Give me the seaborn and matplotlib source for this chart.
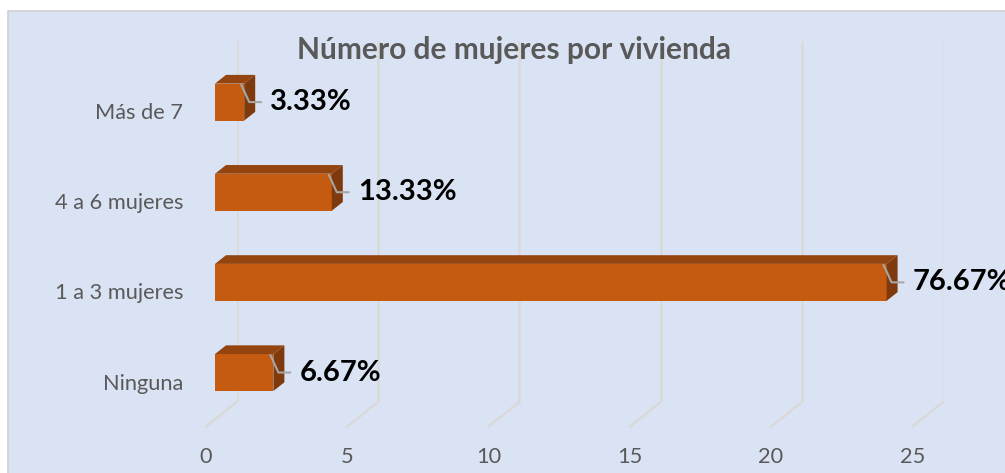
import numpy as np
import pandas as pd
import matplotlib
matplotlib.use("Agg")
import matplotlib.pyplot as plt
import seaborn as sns
from matplotlib.patches import Polygon, Rectangle
from matplotlib.transforms import ScaledTranslation

# ---- data ----
categories = ["Más de 7", "4 a 6 mujeres", "1 a 3 mujeres", "Ninguna"]
counts = [1, 4, 23, 2]
pct_labels = ["3.33%", "13.33%", "76.67%", "6.67%"]
x_ticks = [0, 5, 10, 15, 20, 25]
title = "Número de mujeres por vivienda"

sns.set_theme(style="white")
plt.rcParams["font.family"] = ["Lato", "DejaVu Sans"]

W, H = 1005, 473
DPI = 100
fig = plt.figure(figsize=(W / DPI, H / DPI), dpi=DPI)
fig.patch.set_facecolor("white")


def px(x0, y0, x1, y1):
    return [x0 / W, 1 - y1 / H, (x1 - x0) / W, (y1 - y0) / H]


# chart area background
fig.patches.append(Rectangle((8 / W, -0.02), 1.0, 1 - 11 / H + 0.02,
                             transform=fig.transFigure, facecolor="#DAE3F3",
                             edgecolor="#D0D0D0", lw=1.2, zorder=-10))

# ---- back wall grid + floor ----
axg = fig.add_axes(px(236.7, 40.7, 943.3, 402))
axg.set_xlim(0, 25)
axg.set_ylim(0, 1)
axg.patch.set_alpha(0)
for s in axg.spines.values():
    s.set_visible(False)
axg.set_yticks([])
axg.set_xticks(x_ticks)
axg.set_xticklabels([str(t) for t in x_ticks])
axg.tick_params(axis="x", length=0, pad=0, labelsize=15.7, labelcolor="#595959")
grid_c = "#D9D9D9"
depth_dx = -31 / (706.6 / 25)
depth_dy = -24.7 / 361.3
for t in x_ticks:
    axg.plot([t, t], [0, 1], color=grid_c, lw=1.8, solid_capstyle="butt")
    axg.plot([t, t + depth_dx], [0, depth_dy], color=grid_c, lw=1.8, clip_on=False)
for lab in axg.get_xticklabels():
    lab.set_va("center")
    lab.set_transform(lab.get_transform() + ScaledTranslation(-31 / DPI, -55 / DPI, fig.dpi_scale_trans))

# ---- bars ----
axb = fig.add_axes(px(215, 57, 945, 417.6))
axb.patch.set_alpha(0)
sns.barplot(x=counts, y=categories, orient="h", color="#C55A11", saturation=1,
            width=0.41, linewidth=0, ax=axb)
axb.set_xlim(0, 25)
axb.set_ylim(3.5, -0.5)
for s in axb.spines.values():
    s.set_visible(False)
axb.set_xticks([])
axb.set_xlabel("")
axb.set_ylabel("")
axb.tick_params(axis="y", length=0, pad=23, labelsize=15.7, labelcolor="#595959")
for lab in axb.get_yticklabels():
    lab.set_transform(lab.get_transform() + ScaledTranslation(0, -9 / DPI, fig.dpi_scale_trans))

T = axb.transData
Ti = T.inverted()
dx, dy = 11, 8.7
for p, lab in zip(list(axb.patches), pct_labels):
    x0, y0, w, h = p.get_x(), p.get_y(), p.get_width(), p.get_height()
    xl, yt = T.transform((x0, y0))
    xr, yb = T.transform((x0 + w, y0 + h))
    top = [(xl, yt), (xr, yt), (xr + dx, yt + dy), (xl + dx, yt + dy)]
    side = [(xr, yt), (xr, yb), (xr + dx, yb + dy), (xr + dx, yt + dy)]
    axb.add_patch(Polygon(Ti.transform(top), closed=True, facecolor="#94450F",
                          edgecolor="none", zorder=3))
    axb.add_patch(Polygon(Ti.transform(side), closed=True, facecolor="#7E3A0C",
                          edgecolor="none", zorder=3))
    yc = (yt + yb) / 2
    leader = [(xr - 3, yt - 1), (xr + 5, yc), (xr + 17, yc)]
    lx, ly = zip(*Ti.transform(leader))
    axb.plot(lx, ly, color="#A6A6A6", lw=1.5, zorder=4, clip_on=False)
    axb.text(x0 + w, y0 + h / 2, lab, ha="left", va="center", fontsize=21,
             fontweight="bold", color="black", zorder=5,
             transform=T + ScaledTranslation(26 / DPI, 0, fig.dpi_scale_trans))

fig.text(514 / W, 1 - 50 / H, title, ha="center", va="center", fontsize=21.5,
         fontweight="bold", color="#595959")

fig.savefig("out.png", dpi=DPI)
